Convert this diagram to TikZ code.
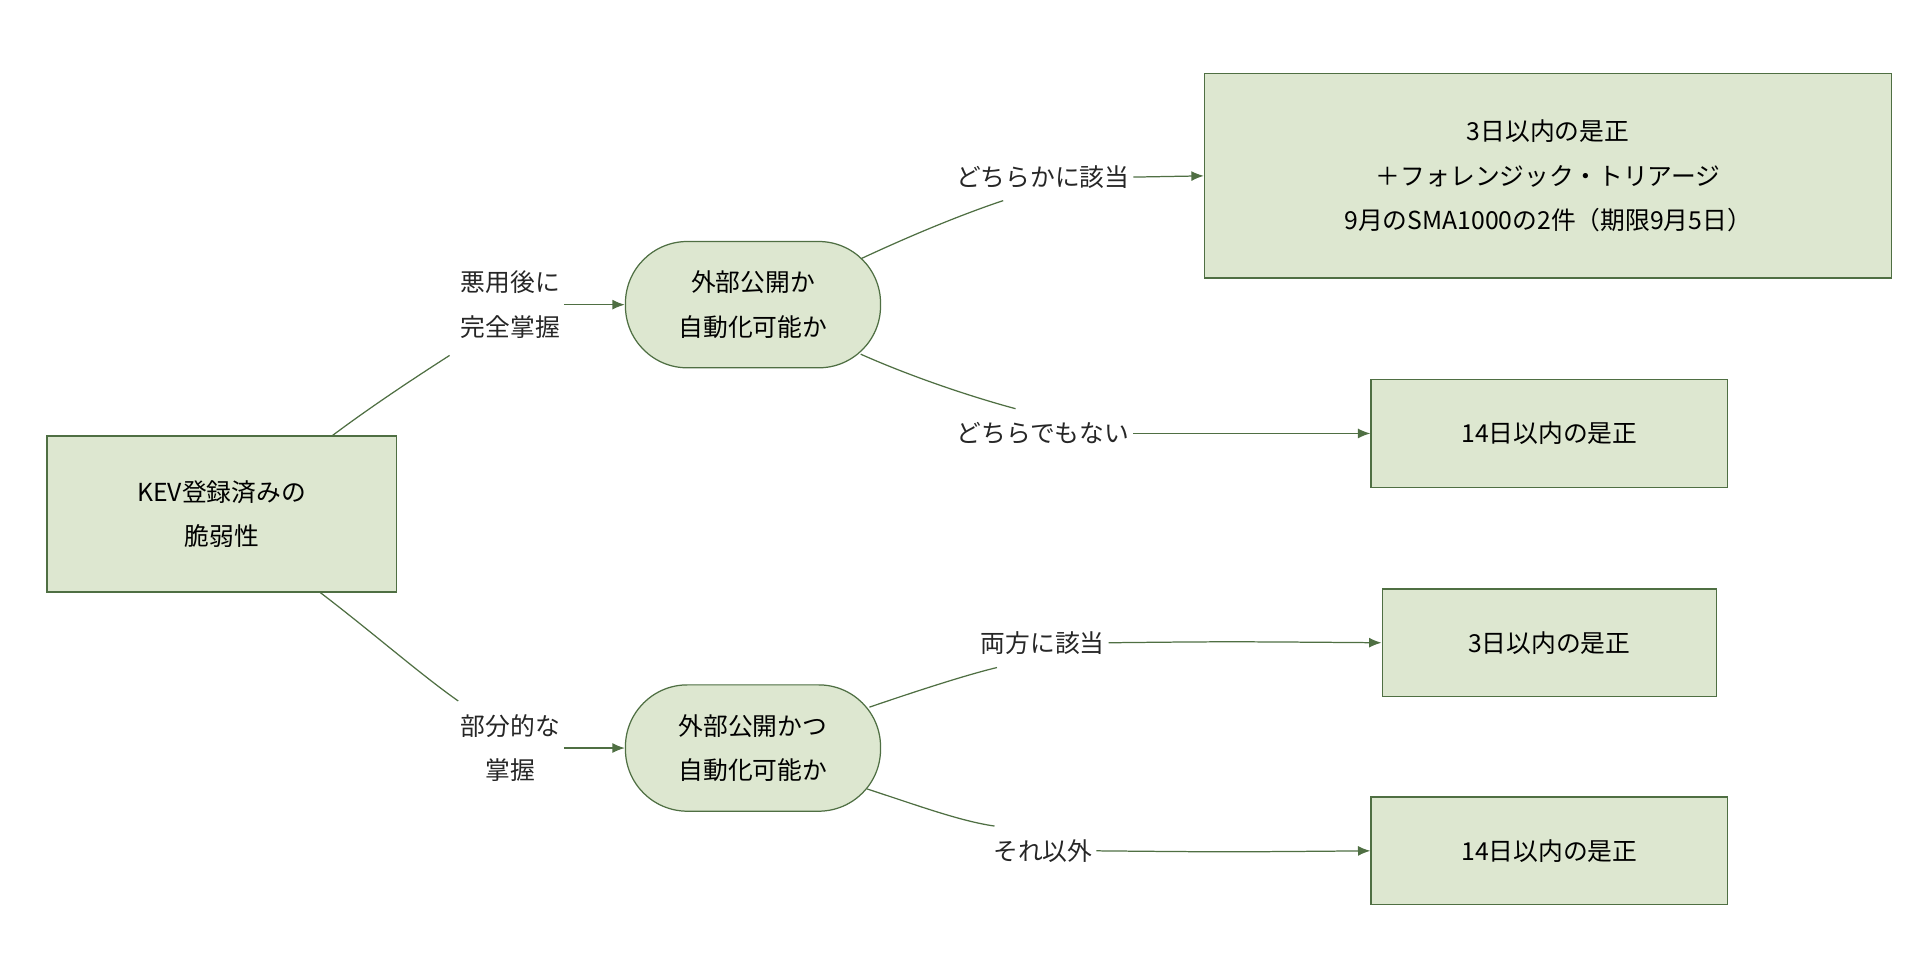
\documentclass[tikz,border=0pt]{standalone}
\usepackage{fontspec}
\setmainfont{Noto Sans CJK JP}
\usetikzlibrary{arrows.meta}
\definecolor{fillg}{HTML}{DDE7D0}
\definecolor{lineg}{HTML}{4F6F43}
\begin{document}
\begin{tikzpicture}[x=1pt,y=-1pt,
  font=\fontsize{20}{36}\selectfont,
  box/.style={draw=lineg,fill=fillg,line width=1pt,align=center,inner sep=0pt},
  oval/.style={draw=lineg,fill=fillg,line width=1pt,align=center,rounded corners=50pt,minimum width=206pt,minimum height=102pt,inner sep=0pt},
  lbl/.style={align=center,inner sep=3pt,text=black!85},
  ln/.style={draw=lineg,line width=1pt},
  arr/.style={ln,-{Latex[length=10pt,width=8pt]}}]
\useasboundingbox (0,0) rectangle (1560,791);
\node[box,minimum width=282pt,minimum height=126pt] (kev) at (179,415) {KEV登録済みの\\脆弱性};
\node[oval] (o1) at (608,246) {外部公開か\\自動化可能か};
\node[oval] (o2) at (608,604) {外部公開かつ\\自動化可能か};
\node[box,minimum width=555pt,minimum height=165pt] (a) at (1250,142) {3日以内の是正\\＋フォレンジック・トリアージ\\9月のSMA1000の2件（期限9月5日）};
\node[box,minimum width=288pt,minimum height=87pt] (b) at (1251,350) {14日以内の是正};
\node[box,minimum width=270pt,minimum height=87pt] (c) at (1251,519) {3日以内の是正};
\node[box,minimum width=288pt,minimum height=87pt] (d) at (1251,687) {14日以内の是正};
\node[lbl] (l1) at (412,246) {悪用後に\\完全掌握};
\node[lbl] (l2) at (412,604) {部分的な\\掌握};
\node[lbl] (l3) at (842,143) {どちらかに該当};
\node[lbl] (l4) at (842,350) {どちらでもない};
\node[lbl] (l5) at (842,519) {両方に該当};
\node[lbl] (l6) at (842,687) {それ以外};
\coordinate (k1) at (268,352);
\coordinate (k2) at (258,478);
\draw[ln] (k1) .. controls (300,328) and (335,305) .. (363,287);
\draw[arr] (l1.east) ++(0,0) .. controls (480,246) .. (o1.west);
\draw[ln] (k2) .. controls (300,510) and (340,545) .. (370,566);
\draw[arr] (l2.east) .. controls (480,604) .. (o2.west);
\draw[ln] (695,209) .. controls (740,188) and (780,172) .. (810,162);
\draw[arr] (l3.east) -- (a.west);
\draw[ln] (695,286) .. controls (740,306) and (790,322) .. (820,330);
\draw[arr] (l4.east) .. controls (990,350) .. (b.west);
\draw[ln] (702,571) .. controls (740,558) and (780,545) .. (805,539);
\draw[arr] (l5.east) .. controls (990,518) .. (c.west);
\draw[ln] (700,637) .. controls (740,650) and (775,663) .. (803,667);
\draw[arr] (l6.east) .. controls (990,688) .. (d.west);
\end{tikzpicture}
\end{document}
